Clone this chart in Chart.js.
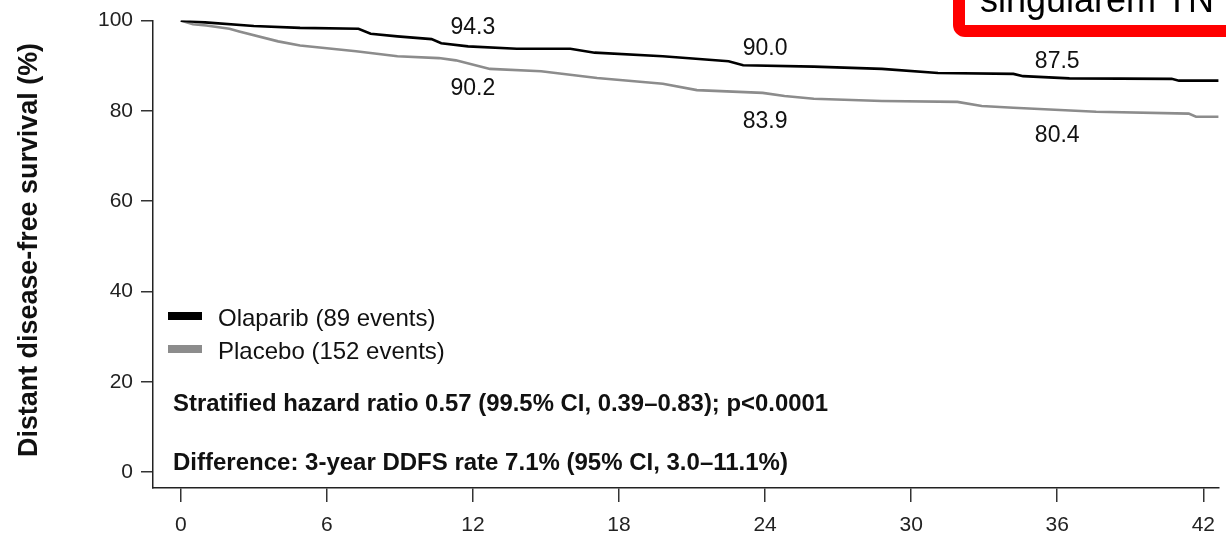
<!DOCTYPE html>
<html>
<head>
<meta charset="utf-8">
<script src="https://cdn.jsdelivr.net/npm/chart.js@4.4.1/dist/chart.umd.min.js"></script>
<style>
  html, body { margin: 0; padding: 0; background: #fff; }
  #wrap { width: 1226px; height: 537px; position: relative; overflow: hidden; }
</style>
</head>
<body>
<div id="wrap"><canvas id="kmChart" width="1226" height="537"></canvas></div>
<script>
// months / survival (%)
const olaparibMonths = [0, 1, 3, 4.9, 7.3, 7.8, 8.9, 10.3, 10.7, 11.8, 13.8, 16, 17, 19.8, 22.5, 23.1, 26, 28.8, 31.1, 34.2, 34.6, 36.5, 40.7, 41, 42.7];
const olaparibSurv   = [100, 99.6, 98.8, 98.4, 98.2, 97.1, 96.5, 95.9, 95.0, 94.3, 93.75, 93.75, 92.9, 92.1, 91.0, 90.1, 89.8, 89.3, 88.4, 88.2, 87.7, 87.2, 87.1, 86.7, 86.7];

const placeboMonths = [0, 0.5, 1.05, 2.0, 2.4, 4.0, 4.9, 7.2, 8.9, 10.6, 11.3, 12.7, 14.8, 17.1, 19.8, 21.2, 23.9, 24.8, 26, 28.8, 31.9, 32.9, 34.2, 37.6, 41.4, 41.7, 42.7];
const placeboSurv   = [100, 99.2, 98.9, 98.2, 97.6, 95.4, 94.5, 93.2, 92.1, 91.7, 91.2, 89.3, 88.8, 87.3, 86.0, 84.6, 84.0, 83.3, 82.7, 82.2, 82.0, 81.1, 80.7, 79.8, 79.4, 78.7, 78.7];

const xTicks = [0, 6, 12, 18, 24, 30, 36, 42];
const yTicks = [0, 20, 40, 60, 80, 100];

// landmark rates printed on the plot
const landmarkMonths = [12, 24, 36];
const olaparibRates = ['94.3', '90.0', '87.5'];
const placeboRates  = ['90.2', '83.9', '80.4'];

const seriesLabels = ['Olaparib (89 events)', 'Placebo (152 events)'];
const statLines = [
  'Stratified hazard ratio 0.57 (99.5% CI, 0.39\u20130.83); p<0.0001',
  'Difference: 3-year DDFS rate 7.1% (95% CI, 3.0\u201311.1%)'
];
const yTitle = 'Distant disease-free survival (%)';
const boxText = 'singularem TN';

const FONT = '"Liberation Sans", Arial, Helvetica, sans-serif';

const toPoints = (xs, ys) => xs.map((x, i) => ({ x: x, y: ys[i] }));

const extras = {
  id: 'extras',
  afterDraw(chart) {
    const ctx = chart.ctx;
    const xs = chart.scales.x;
    ctx.save();
    ctx.fillStyle = '#111';

    // landmark labels
    ctx.font = '23px ' + FONT;
    ctx.textAlign = 'center';
    ctx.textBaseline = 'middle';
    landmarkMonths.forEach((m, i) => {
      const px = xs.getPixelForValue(m);
      ctx.fillText(olaparibRates[i], px, [28, 49, 62][i]);
      ctx.fillText(placeboRates[i], px, [89, 122, 136][i]);
    });

    // legend
    ctx.font = '24px ' + FONT;
    chart.data.datasets.forEach((ds, i) => {
      const y = 316 + i * 33;
      ctx.fillStyle = ds.borderColor;
      ctx.fillRect(168, y - 4, 34, 8);
      ctx.fillStyle = '#111';
      ctx.textAlign = 'left';
      ctx.fillText(seriesLabels[i], 218, y + 3);
    });

    // stats
    ctx.font = 'bold 24px ' + FONT;
    ctx.fillText(statLines[0], 173, 404, 655);
    ctx.fillText(statLines[1], 173, 463);

    // y title
    ctx.save();
    ctx.translate(30, 250);
    ctx.rotate(-Math.PI / 2);
    ctx.textAlign = 'center';
    ctx.font = 'bold 27px ' + FONT;
    ctx.fillText(yTitle, 0, 0, 414);
    ctx.restore();

    // red box, top right
    ctx.strokeStyle = '#ff0000';
    ctx.lineWidth = 12;
    ctx.beginPath();
    ctx.roundRect(959, -30, 320, 61, 6);
    ctx.stroke();
    ctx.fillStyle = '#000';
    ctx.font = '36px ' + FONT;
    ctx.textAlign = 'left';
    ctx.textBaseline = 'alphabetic';
    ctx.fillText(boxText, 980, 12);
    ctx.restore();
  }
};

new Chart(document.getElementById('kmChart').getContext('2d'), {
  type: 'scatter',
  data: {
    datasets: [{
      label: 'Olaparib',
      data: toPoints(olaparibMonths, olaparibSurv),
      showLine: true,
      borderColor: '#000000',
      borderWidth: 2.6,
      pointRadius: 0,
      tension: 0
    }, {
      label: 'Placebo',
      data: toPoints(placeboMonths, placeboSurv),
      showLine: true,
      borderColor: '#8c8c8c',
      borderWidth: 2.6,
      pointRadius: 0,
      tension: 0
    }]
  },
  options: {
    responsive: false,
    animation: false,
    layout: { padding: { top: 16, right: 0, left: 0, bottom: 0 } },
    plugins: { legend: { display: false }, tooltip: { enabled: false } },
    scales: {
      x: {
        type: 'linear',
        min: -1.14,
        max: 42.62,
        afterBuildTicks: s => { s.ticks = xTicks.map(v => ({ value: v })); },
        afterFit: s => { s.height = 49; },
        grid: { drawOnChartArea: false, drawTicks: true, tickLength: 14, color: '#333', lineWidth: 1.5 },
        border: { display: true, color: '#222', width: 1.5 },
        ticks: { font: { family: FONT, size: 21 }, color: '#222', padding: 11, maxRotation: 0 }
      },
      y: {
        type: 'linear',
        min: -3.5,
        max: 100,
        afterBuildTicks: s => { s.ticks = yTicks.map(v => ({ value: v })); },
        afterFit: s => { s.width = 153; },
        grid: { drawOnChartArea: false, drawTicks: true, tickLength: 12, color: '#333', lineWidth: 1.5 },
        border: { display: true, color: '#222', width: 1.5 },
        ticks: { font: { family: FONT, size: 21 }, color: '#222', padding: 8 }
      }
    }
  },
  plugins: [extras]
});
</script>
</body>
</html>
